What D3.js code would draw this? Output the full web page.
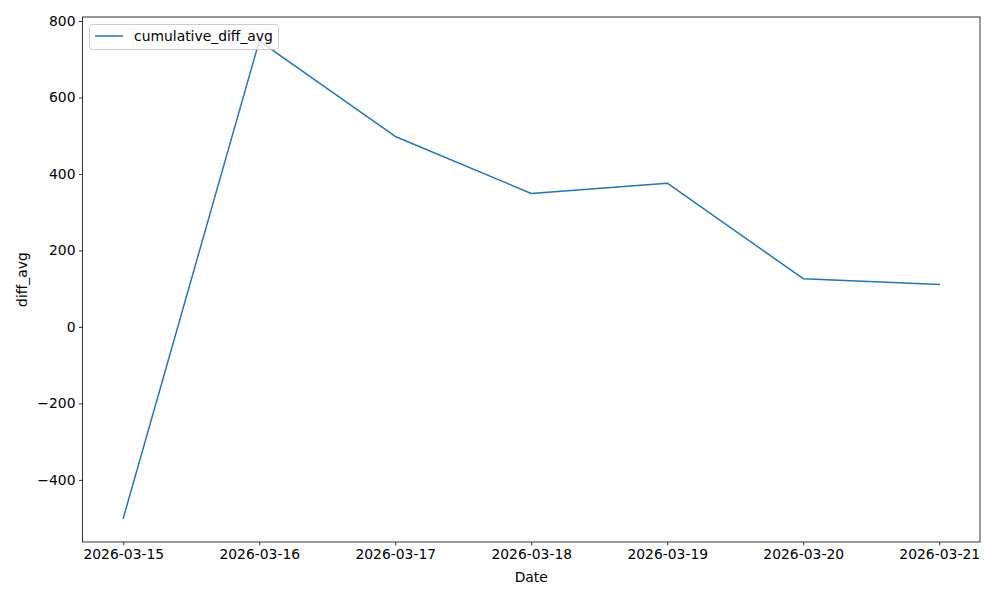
<!DOCTYPE html>
<html><head><meta charset="utf-8">
<script src="https://cdn.jsdelivr.net/npm/d3@7"></script>
<style>body{margin:0;background:#fff;} svg{display:block;font-family:"DejaVu Sans",sans-serif;}</style>
</head><body>
<svg id="c" width="1000" height="600"></svg>
<script>
const dates = ["2026-03-15","2026-03-16","2026-03-17","2026-03-18","2026-03-19","2026-03-20","2026-03-21"];
const values = [-500, 748, 498, 349, 376, 126, 111];
const yTicks = [-400, -200, 0, 200, 400, 600, 800];
const seriesName = "cumulative_diff_avg";

const svg = d3.select("#c");
const L = 82.5, R = 980, T = 17, B = 542;
const parse = d3.utcParse("%Y-%m-%d");
const xs = dates.map(parse);
const day = 86400000;
const x0 = d3.min(xs).getTime(), x1 = d3.max(xs).getTime();
const xm = (x1 - x0) * 0.05;
const x = d3.scaleUtc().domain([new Date(x0 - xm), new Date(x1 + xm)]).range([L, R]);
const ymin = d3.min(values), ymax = d3.max(values), ym = (ymax - ymin) * 0.05;
const y = d3.scaleLinear().domain([ymin - ym, ymax + ym]).range([B, T]);

const fmtY = v => (v < 0 ? "\u2212" + Math.abs(v) : String(v));
const xAxis = d3.axisBottom(x).tickValues(xs).tickFormat(d3.utcFormat("%Y-%m-%d")).tickSizeOuter(0).tickSize(3.5).tickPadding(3.5);
const yAxis = d3.axisLeft(y).tickValues(yTicks).tickFormat(fmtY).tickSizeOuter(0).tickSize(3.5).tickPadding(3.5);

const gx = svg.append("g").attr("transform", `translate(0,${B})`).call(xAxis);
const gy = svg.append("g").attr("transform", `translate(${L},0)`).call(yAxis);
[gx, gy].forEach(g => {
  g.select(".domain").remove();
  g.selectAll("line").attr("stroke", "#000").attr("stroke-width", 0.8);
  g.selectAll("text").attr("fill", "#000").attr("font-size", "13.9px").attr("font-family", "DejaVu Sans");
});

svg.append("path")
  .datum(values.map((v, i) => [xs[i], v]))
  .attr("fill", "none").attr("stroke", "#1f77b4").attr("stroke-width", 1.5)
  .attr("stroke-linejoin", "round").attr("stroke-linecap", "square")
  .attr("d", d3.line().x(d => x(d[0])).y(d => y(d[1])));

svg.append("rect").attr("x", L).attr("y", T).attr("width", R - L).attr("height", B - T)
  .attr("fill", "none").attr("stroke", "#000").attr("stroke-width", 0.8);

svg.append("text").attr("x", (L + R) / 2).attr("y", 582).attr("text-anchor", "middle")
  .attr("font-size", "13.9px").text("Date");
svg.append("text").attr("transform", `translate(27,${(T + B) / 2}) rotate(-90)`).attr("text-anchor", "middle")
  .attr("font-size", "13.9px").text("diff_avg");

const lg = svg.append("g");
lg.append("rect").attr("x", 89.5).attr("y", 24.5).attr("width", 189).attr("height", 25).attr("rx", 3)
  .attr("fill", "#fff").attr("fill-opacity", 0.8).attr("stroke", "#ccc").attr("stroke-width", 1);
lg.append("line").attr("x1", 95).attr("x2", 123).attr("y1", 36).attr("y2", 36)
  .attr("stroke", "#1f77b4").attr("stroke-width", 1.5);
lg.append("text").attr("x", 134).attr("y", 41).attr("font-size", "13.9px").text(seriesName);
</script>
</body></html>
